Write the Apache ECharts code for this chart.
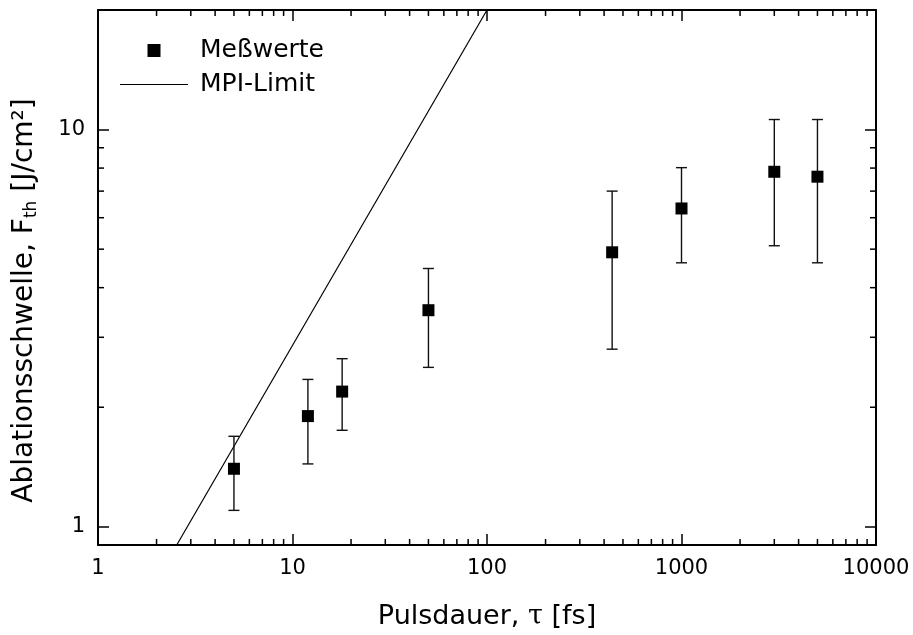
<!DOCTYPE html>
<html>
<head>
<meta charset="utf-8">
<script src="https://cdn.jsdelivr.net/npm/echarts@6/dist/echarts.min.js"></script>
<style>html,body{margin:0;padding:0;background:#fff}#c{width:913px;height:635px}</style>
</head>
<body>
<div id="c"></div>
<script>
// Pulse duration [fs]
const pulseDuration = [5, 12, 18, 50, 440, 1000, 3000, 5000];
// Ablation threshold [J/cm²]
const threshold = [1.40, 1.90, 2.19, 3.51, 4.91, 6.33, 7.83, 7.61];
const errLow = [1.10, 1.44, 1.75, 2.52, 2.80, 4.62, 5.10, 4.62];
const errHigh = [1.69, 2.35, 2.65, 4.47, 7.00, 8.02, 10.6, 10.6];
// MPI limit line endpoints
const mpiX = [2.54, 100];
const mpiY = [0.9, 20];
// axis ranges
const xRange = [1, 10000];
const yRange = [0.9, 20];
// minor tick positions
const xMinorTicks = [2,3,4,5,6,7,8,9,20,30,40,50,60,70,80,90,200,300,400,500,600,700,800,900,2000,3000,4000,5000,6000,7000,8000,9000];
const yMinorTicks = [2,3,4,5,6,7,8,9];

const FONT = 'DejaVu Sans';
const chart = echarts.init(document.getElementById('c'), null, {renderer: 'canvas'});

const axisLineStyle = {color: '#000', width: 2};
const common = {
  splitLine: {show: false},
  axisLine: {show: true, onZero: false, lineStyle: axisLineStyle},
  axisTick: {show: true, inside: true, length: 11, lineStyle: {color: '#000', width: 1.5}},
};

function minorTickRender(isX) {
  return function (params, api) {
    const v = api.value(0);
    const len = 6;
    let a, b;
    if (isX) {
      const p1 = api.coord([v, yRange[0]]);
      const p2 = api.coord([v, yRange[1]]);
      a = {x1: p1[0], y1: p1[1], x2: p1[0], y2: p1[1] - len};
      b = {x1: p2[0], y1: p2[1], x2: p2[0], y2: p2[1] + len};
    } else {
      const p1 = api.coord([xRange[0], v]);
      const p2 = api.coord([xRange[1], v]);
      a = {x1: p1[0], y1: p1[1], x2: p1[0] + len, y2: p1[1]};
      b = {x1: p2[0], y1: p2[1], x2: p2[0] - len, y2: p2[1]};
    }
    const st = {stroke: '#000', lineWidth: 1.5};
    return {type: 'group', children: [
      {type: 'line', shape: a, style: st},
      {type: 'line', shape: b, style: st}
    ]};
  };
}

const option = {
  animation: false,
  backgroundColor: '#fff',
  textStyle: {fontFamily: FONT, color: '#000'},
  grid: {left: 98, right: 37, top: 10, bottom: 88, containLabel: false},
  legend: {
    orient: 'vertical',
    left: 120, top: 38, padding: 0,
    itemWidth: 68, itemHeight: 13, itemGap: 9,
    symbolKeepAspect: true,
    textStyle: {fontFamily: FONT, fontSize: 25, color: '#000', padding: [0, 0, 0, 7]},
    data: [
      {name: 'Meßwerte', icon: 'path://M0,0L10,0L10,10L0,10Z', itemStyle: {color: '#000', opacity: 1}},
      {name: 'MPI-Limit', icon: 'path://M0,0L100,0L100,1.6L0,1.6Z', itemStyle: {color: '#000'}}
    ]
  },
  xAxis: [
    Object.assign({}, common, {
      type: 'log', logBase: 10, min: xRange[0], max: xRange[1], position: 'bottom',
      axisLabel: {show: true, fontFamily: FONT, fontSize: 21, color: '#000', margin: 13,
        formatter: function (v) { return String(Math.round(v)); }},
      name: 'Pulsdauer, {tau|τ} [fs]',
      nameLocation: 'middle', nameGap: 58,
      nameTextStyle: {fontFamily: FONT, fontSize: 27, color: '#000',
        rich: {tau: {fontFamily: 'DejaVu Serif', fontSize: 27, color: '#000'}}}
    }),
    Object.assign({}, common, {
      type: 'log', logBase: 10, min: xRange[0], max: xRange[1], position: 'top',
      axisLabel: {show: false}
    })
  ],
  yAxis: [
    Object.assign({}, common, {
      type: 'log', logBase: 10, min: yRange[0], max: yRange[1], position: 'left',
      axisLabel: {show: true, fontFamily: FONT, fontSize: 21, color: '#000', margin: 13,
        showMinLabel: false, showMaxLabel: false,
        formatter: function (v) { return String(Math.round(v)); }},
      name: 'Ablationsschwelle, F{sub|th} [J/cm²]',
      nameLocation: 'middle', nameGap: 58,
      nameTextStyle: {fontFamily: FONT, fontSize: 28, color: '#000', padding: [0, 46, 0, 0],
        rich: {sub: {fontFamily: FONT, fontSize: 17, color: '#000', padding: [14, 0, 0, 0]}}}
    }),
    Object.assign({}, common, {
      type: 'log', logBase: 10, min: yRange[0], max: yRange[1], position: 'right',
      axisLabel: {show: false}
    })
  ],
  series: [
    {
      name: 'MPI-Limit', type: 'line',
      data: [[mpiX[0], mpiY[0]], [mpiX[1], mpiY[1]]],
      showSymbol: false, symbol: 'none',
      lineStyle: {color: '#000', width: 1.2},
      itemStyle: {color: '#000'},
      clip: true, z: 3
    },
    {
      name: 'errors', type: 'custom',
      data: pulseDuration.map((x, i) => [x, errLow[i], errHigh[i]]),
      encode: {x: 0, y: [1, 2]},
      renderItem: function (params, api) {
        const x = api.value(0);
        const lo = api.coord([x, api.value(1)]);
        const hi = api.coord([x, api.value(2)]);
        const hw = 5.5;
        const st = {stroke: '#111', lineWidth: 1.4};
        return {type: 'group', children: [
          {type: 'line', shape: {x1: lo[0], y1: lo[1], x2: hi[0], y2: hi[1]}, style: st},
          {type: 'line', shape: {x1: lo[0] - hw, y1: lo[1], x2: lo[0] + hw, y2: lo[1]}, style: st},
          {type: 'line', shape: {x1: hi[0] - hw, y1: hi[1], x2: hi[0] + hw, y2: hi[1]}, style: st}
        ]};
      },
      z: 4, silent: true
    },
    {
      name: 'Meßwerte', type: 'scatter',
      data: pulseDuration.map((x, i) => [x, threshold[i]]),
      symbol: 'rect', symbolSize: 12,
      itemStyle: {color: '#000', opacity: 1},
      z: 5
    },
    {
      name: 'xminor', type: 'custom', data: xMinorTicks.map(v => [v]),
      encode: {x: 0}, renderItem: minorTickRender(true), silent: true, z: 6, clip: false
    },
    {
      name: 'yminor', type: 'custom', data: yMinorTicks.map(v => [v]),
      encode: {y: 0}, renderItem: minorTickRender(false), silent: true, z: 6, clip: false
    }
  ]
};
chart.setOption(option);
</script>
</body>
</html>
